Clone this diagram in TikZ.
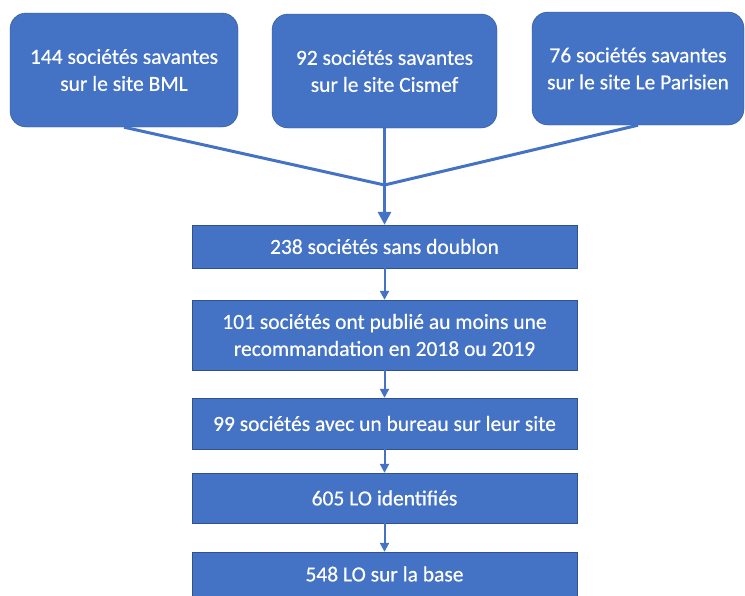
\documentclass[tikz,border=0pt]{standalone}
\usepackage{fontspec}
\setmainfont{Carlito}
\newfontfamily\boxfont{Carlito}[FakeBold=0.5]
\usetikzlibrary{arrows.meta}
\definecolor{boxblue}{HTML}{4472C4}
\definecolor{edgeblue}{HTML}{2F528F}
\begin{document}
\begin{tikzpicture}[
				x=1pt, y=-1pt,
				source/.style={rectangle, draw=edgeblue, fill=boxblue, rounded corners=16pt, text=white, align=center, inner sep=0pt, font=\boxfont\fontsize{21.5}{27}\selectfont},
				stage/.style={rectangle, draw=edgeblue, fill=boxblue, text=white, align=center, inner sep=0pt, minimum width=385pt, font=\boxfont\fontsize{21.5}{27}\selectfont},
				merge/.style={draw=boxblue, line width=3pt},
				flow/.style={draw=boxblue, line width=2pt, -{Triangle[length=9pt, width=9pt]}}
			]
			\useasboundingbox (0,0) rectangle (745,595);
			% sources
			\node[source, minimum width=228pt, minimum height=114pt] (bml) at (124,70) {144 sociétés savantes\\sur le site BML};
			\node[source, minimum width=225pt, minimum height=114pt] (cismef) at (384.5,71) {92 sociétés savantes\\sur le site Cismef};
			\node[source, minimum width=212pt, minimum height=113pt] (parisien) at (638,68.5) {76 sociétés savantes\\sur le site Le Parisien};
			\coordinate (join) at (384.5,185);
			% steps
			\node[stage, minimum height=43pt] (sansdoublon) at (384.5,246.5) {238 sociétés sans doublon};
			\node[stage, minimum height=70pt] (reco) at (384.5,335) {101 sociétés ont publié au moins une\\recommandation en 2018 ou 2019};
			\node[stage, minimum height=51pt] (bureau) at (384.5,423.5) {99 sociétés avec un bureau sur leur site};
			\node[stage, minimum height=50pt] (lo) at (384.5,498) {605 LO identifiés};
			\node[stage, minimum height=44pt] (base) at (384.5,574) {548 LO sur la base};
			% connectors
			\draw[merge] (bml.south) -- (join);
			\draw[merge] (parisien.south) -- (join);
			\draw[merge] (cismef.south) -- (join);
			\draw[merge, -{Triangle[length=13pt, width=13pt]}] (join) -- (sansdoublon.north);
			\draw[flow] (sansdoublon) -- (reco);
			\draw[flow] (reco) -- (bureau);
			\draw[flow] (bureau) -- (lo);
			\draw[flow] (lo) -- (base);
		\end{tikzpicture}
\end{document}
